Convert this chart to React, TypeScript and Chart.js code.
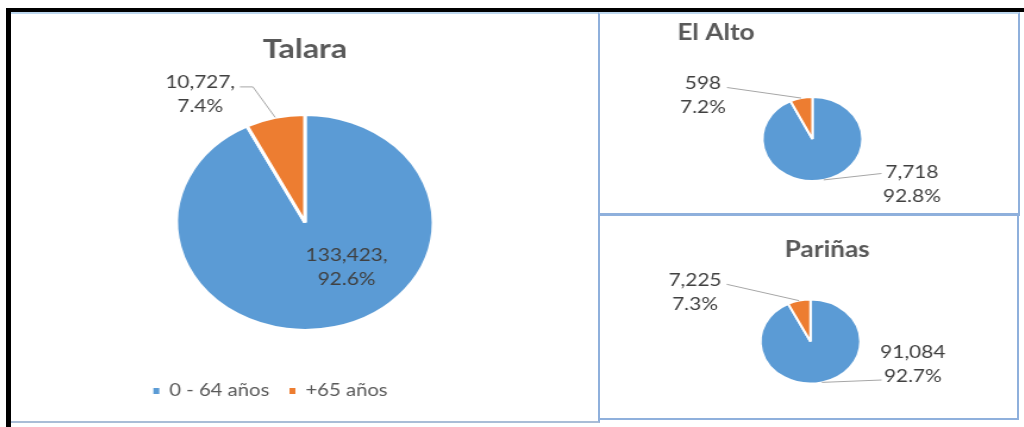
import React, { useEffect, useRef } from 'react';
import { Chart, registerables } from 'chart.js';

Chart.register(...registerables);

// ---- data ----
const CATEGORIES = ['0 - 64 años', '+65 años'];
const TALARA_VALUES = [133423, 10727];
const EL_ALTO_VALUES = [7718, 598];
const PARINAS_VALUES = [91084, 7225];
const TITLES = ['Talara', 'El Alto', 'Pariñas'];
const COLORS = ['#5B9BD5', '#ED7D31'];

const FONT = 'Lato';
const SX = 1.19; // horizontal stretch of the reference picture
const LABEL_COLOR = '#404040';
const TITLE_COLOR = '#595959';

Chart.defaults.font.family = FONT;

const labelPlugin = {
  id: 'pieLabels',
  afterDatasetsDraw(chart: any, _args: any, opts: any) {
    const { ctx } = chart;
    const meta = chart.getDatasetMeta(0);
    const data = chart.data.datasets[0].data as number[];
    const total = data.reduce((a: number, b: number) => a + b, 0);
    meta.data.forEach((arc: any, i: number) => {
      const cfg = opts.items[i];
      if (!cfg) return;
      const { x, y, startAngle, endAngle, outerRadius } = arc.getProps(
        ['x', 'y', 'startAngle', 'endAngle', 'outerRadius'],
        true
      );
      const mid = (startAngle + endAngle) / 2;
      const ax = x + Math.cos(mid) * outerRadius;
      const ay = y + Math.sin(mid) * outerRadius;
      const lines = [
        data[i].toLocaleString('en-US') + opts.sep,
        ((data[i] / total) * 100).toFixed(1) + '%',
      ];
      ctx.save();
      if (cfg.leader) {
        ctx.strokeStyle = '#A6A6A6';
        ctx.lineWidth = 1;
        ctx.beginPath();
        cfg.leader.forEach((p: number[], k: number) => {
          if (k === 0) ctx.moveTo(x + p[0], y + p[1]);
          else ctx.lineTo(x + p[0], y + p[1]);
        });
        ctx.lineTo(ax, ay);
        ctx.stroke();
      }
      ctx.font = `${opts.size}px ${FONT}`;
      ctx.fillStyle = LABEL_COLOR;
      ctx.textAlign = 'center';
      ctx.textBaseline = 'middle';
      const cx = x + cfg.dx;
      const cy = y + cfg.dy;
      lines.forEach((t, k) => {
        ctx.fillText(t, cx, cy + (k - (lines.length - 1) / 2) * opts.lineHeight);
      });
      ctx.restore();
    });
  },
};

type PieOpts = {
  w: number;
  h: number;
  left: number;
  top: number;
  radius: number;
  bw: number;
  layoutPadding: any;
  titleAlign: 'start' | 'center' | 'end';
  titleFull: boolean;
  titleSize: number;
  titlePadding: any;
  side: number;
  sidePos: 'left' | 'right';
  legend: boolean;
  legendPadding: number;
  sep: string;
  items: any[];
};

function PieChart({ values, title, o }: { values: number[]; title: string; o: PieOpts }) {
  const ref = useRef<HTMLCanvasElement>(null);
  useEffect(() => {
    const chart = new Chart(ref.current as HTMLCanvasElement, {
      type: 'pie',
      data: {
        labels: CATEGORIES,
        datasets: [
          {
            data: values,
            backgroundColor: COLORS,
            borderColor: '#ffffff',
            borderWidth: o.bw,
            radius: o.radius,
          } as any,
        ],
      },
      options: {
        responsive: false,
        animation: false,
        layout: { padding: o.layoutPadding },
        plugins: {
          title: {
            display: true,
            text: title,
            align: o.titleAlign,
            fullSize: o.titleFull,
            color: TITLE_COLOR,
            font: { family: FONT, size: o.titleSize, weight: 'bold' },
            padding: o.titlePadding,
          },
          subtitle: o.side
            ? {
                display: true,
                text: ' ',
                position: o.sidePos,
                fullSize: false,
                font: { size: 12 },
                padding: { top: (o.side - 14.4) / 2, bottom: (o.side - 14.4) / 2 },
              }
            : { display: false },
          legend: o.legend
            ? {
                display: true,
                position: 'bottom',
                labels: {
                  boxWidth: 5,
                  boxHeight: 6,
                  padding: o.legendPadding,
                  color: TITLE_COLOR,
                  font: { family: FONT, size: 17 },
                  generateLabels: (c: any) =>
                    (c.data.labels as string[]).map((l, i) => ({
                      text: l,
                      fillStyle: COLORS[i],
                      strokeStyle: COLORS[i],
                      lineWidth: 0,
                      hidden: false,
                      index: i,
                      fontColor: TITLE_COLOR,
                    })),
                },
              }
            : { display: false },
          tooltip: { enabled: false },
          pieLabels: { items: o.items, sep: o.sep, size: 17.5, lineHeight: 24 },
        } as any,
      },
      plugins: [labelPlugin],
    });
    return () => chart.destroy();
  }, []);
  return (
    <div
      style={{
        position: 'absolute',
        left: o.left,
        top: o.top,
        width: o.w,
        height: o.h,
        transform: `scaleX(${SX})`,
        transformOrigin: '0 0',
      }}
    >
      <canvas ref={ref} width={o.w} height={o.h} style={{ display: 'block' }} />
    </div>
  );
}

const TALARA_OPTS: PieOpts = {
  w: 495,
  h: 411,
  left: 11,
  top: 12,
  radius: 108,
  bw: 3,
  layoutPadding: { left: 0, right: 59, top: 0, bottom: 13.5 },
  titleAlign: 'center',
  titleFull: false,
  titleSize: 27,
  titlePadding: { top: 21.5, bottom: 13.4 },
  side: 58,
  sidePos: 'left',
  legend: true,
  legendPadding: 17,
  sep: ',',
  items: [
    { dx: 35, dy: 45 },
    { dx: -88, dy: -128, leader: [[-54.6, -135.5], [-43.7, -135.5]] },
  ],
};

const EL_ALTO_OPTS: PieOpts = {
  w: 353,
  h: 203,
  left: 600,
  top: 12,
  radius: 42,
  bw: 2,
  layoutPadding: { left: 65, right: 61, top: 0, bottom: 0 },
  titleAlign: 'start',
  titleFull: true,
  titleSize: 22,
  titlePadding: { top: 7.3, bottom: 17.3 },
  side: 0,
  sidePos: 'left',
  legend: false,
  legendPadding: 10,
  sep: '',
  items: [
    { dx: 83.6, dy: 45, leader: [[58, 34.5]] },
    { dx: -92, dy: -44, leader: [[-71.8, -51.5]] },
  ],
};

const PARINAS_OPTS: PieOpts = {
  w: 353,
  h: 205,
  left: 599,
  top: 214,
  radius: 42,
  bw: 2,
  layoutPadding: { left: 156, right: 0, top: 0, bottom: 0 },
  titleAlign: 'start',
  titleFull: true,
  titleSize: 22,
  titlePadding: { top: 22.8, bottom: 0.8 },
  side: 153.6,
  sidePos: 'right',
  legend: false,
  legendPadding: 10,
  sep: '',
  items: [
    { dx: 86, dy: 22.5, leader: [[59.8, 38.5]] },
    { dx: -97, dy: -49, leader: [[-70.4, -57.2]] },
  ],
};

const BORDER = '#8FB0DC';

export default function App() {
  return (
    <div
      style={{
        position: 'fixed',
        left: 0,
        top: 0,
        width: 1024,
        height: 427,
        background: '#ffffff',
        overflow: 'hidden',
      }}
    >
      {/* panels */}
      <div
        style={{
          position: 'absolute',
          left: 11,
          top: 12,
          width: 589,
          height: 411,
          boxSizing: 'border-box',
          borderTop: '2px solid #BDD7EE',
          borderBottom: '2px solid #A9BDD6',
          borderRight: `2px solid ${BORDER}`,
        }}
      />
      <div
        style={{
          position: 'absolute',
          left: 598,
          top: 12,
          width: 422,
          height: 204,
          boxSizing: 'border-box',
          border: `2px solid ${BORDER}`,
          borderTopColor: '#BDD7EE',
        }}
      />
      <div
        style={{
          position: 'absolute',
          left: 598,
          top: 213,
          width: 421,
          height: 207,
          boxSizing: 'border-box',
          border: `2px solid ${BORDER}`,
        }}
      />
      {/* black frame */}
      <div style={{ position: 'absolute', left: 6, top: 8, width: 1018, height: 4, background: '#000' }} />
      <div style={{ position: 'absolute', left: 6, top: 8, width: 5, height: 419, background: '#000' }} />

      <PieChart values={TALARA_VALUES} title={TITLES[0]} o={TALARA_OPTS} />
      <PieChart values={EL_ALTO_VALUES} title={TITLES[1]} o={EL_ALTO_OPTS} />
      <PieChart values={PARINAS_VALUES} title={TITLES[2]} o={PARINAS_OPTS} />
    </div>
  );
}
